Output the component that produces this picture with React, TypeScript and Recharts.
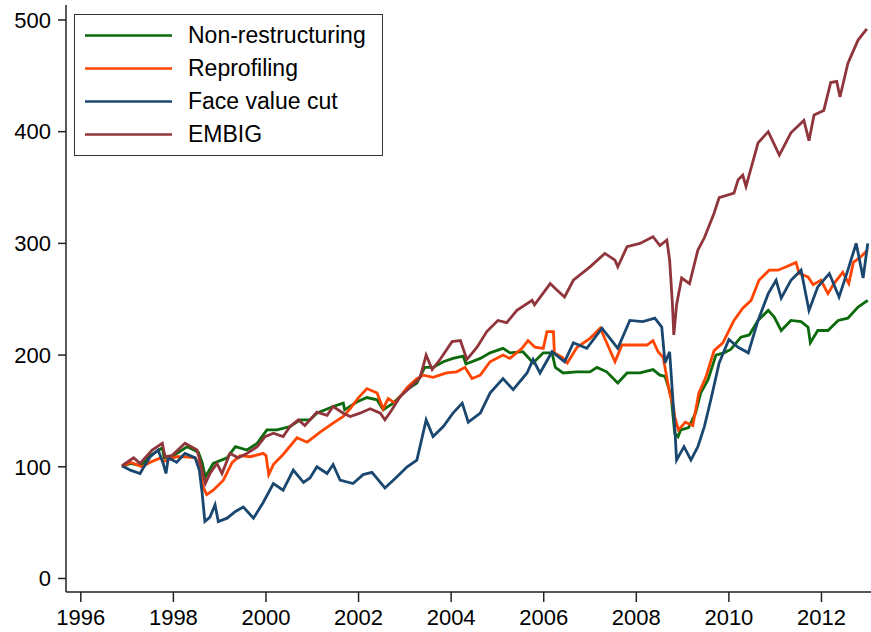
import React from 'react';
import { LineChart, Line, XAxis, YAxis, Legend } from 'recharts';

// [year, index value]
const nonRestructuring: [number, number][] = [
  [1996.89, 100], [1997.07, 103], [1997.3, 101], [1997.5, 110], [1997.76, 117], [1997.8, 108],
  [1998.0, 110], [1998.3, 118], [1998.54, 113], [1998.62, 104], [1998.69, 91], [1998.86, 103],
  [1999.16, 108], [1999.34, 118], [1999.59, 115], [1999.81, 121], [2000.02, 133], [2000.24, 133],
  [2000.52, 136], [2000.74, 142], [2000.95, 142], [2001.1, 148], [2001.45, 154], [2001.67, 157],
  [2001.7, 151], [2001.96, 158], [2002.18, 162], [2002.4, 160], [2002.53, 151], [2002.75, 157],
  [2003.05, 169], [2003.26, 175], [2003.43, 189], [2003.61, 189], [2003.83, 194], [2004.04, 197],
  [2004.26, 199], [2004.32, 192], [2004.63, 197], [2004.84, 202], [2005.12, 206], [2005.27, 202],
  [2005.55, 203], [2005.66, 198], [2005.77, 193], [2005.99, 202], [2006.18, 202], [2006.25, 189],
  [2006.42, 184], [2006.71, 185], [2007.0, 185], [2007.15, 189], [2007.36, 185], [2007.6, 175],
  [2007.8, 184], [2008.08, 184], [2008.36, 187], [2008.51, 182], [2008.62, 181], [2008.72, 168],
  [2008.76, 160], [2008.83, 130], [2008.9, 127], [2008.96, 133], [2009.13, 135], [2009.28, 148],
  [2009.39, 166], [2009.55, 178], [2009.72, 200], [2009.89, 202], [2010.04, 205], [2010.26, 216],
  [2010.44, 218], [2010.63, 231], [2010.85, 240], [2010.98, 234], [2011.13, 222], [2011.34, 231],
  [2011.56, 230], [2011.71, 225], [2011.76, 211], [2011.92, 222], [2012.14, 222], [2012.36, 231],
  [2012.57, 233], [2012.79, 243], [2013.0, 249],
];

const reprofiling: [number, number][] = [
  [1996.89, 100], [1997.07, 104], [1997.32, 100], [1997.5, 104], [1997.72, 108], [1997.8, 105],
  [1998.07, 109], [1998.25, 109], [1998.47, 108], [1998.56, 102], [1998.64, 82], [1998.72, 75],
  [1998.86, 79], [1999.08, 88], [1999.27, 104], [1999.44, 110], [1999.66, 109], [1999.94, 112],
  [2000.0, 110], [2000.06, 93], [2000.16, 102], [2000.37, 111], [2000.67, 126], [2000.89, 122],
  [2001.17, 131], [2001.45, 139], [2001.67, 145], [2001.82, 152], [2002.0, 162], [2002.18, 170],
  [2002.4, 166], [2002.53, 152], [2002.64, 161], [2002.79, 157], [2003.05, 171], [2003.26, 179],
  [2003.4, 182], [2003.61, 180], [2003.9, 184], [2004.12, 185], [2004.3, 189], [2004.45, 179],
  [2004.63, 182], [2004.84, 194], [2005.12, 200], [2005.27, 197], [2005.53, 206], [2005.66, 213],
  [2005.81, 207], [2005.99, 206], [2006.07, 221], [2006.21, 221], [2006.23, 202], [2006.4, 198],
  [2006.51, 193], [2006.72, 207], [2007.0, 215], [2007.22, 224], [2007.36, 211], [2007.54, 194],
  [2007.69, 209], [2007.94, 209], [2008.23, 209], [2008.36, 213], [2008.47, 203], [2008.58, 198],
  [2008.72, 166], [2008.8, 154], [2008.83, 145], [2008.91, 133], [2009.06, 140], [2009.22, 137],
  [2009.35, 166], [2009.5, 180], [2009.68, 204], [2009.87, 211], [2010.11, 231], [2010.3, 242],
  [2010.48, 249], [2010.65, 267], [2010.87, 276], [2011.06, 276], [2011.24, 279], [2011.45, 283],
  [2011.52, 273], [2011.71, 270], [2011.82, 263], [2011.99, 267], [2012.14, 255], [2012.27, 264],
  [2012.46, 274], [2012.59, 264], [2012.69, 283], [2012.85, 288], [2013.0, 294],
];

const faceValueCut: [number, number][] = [
  [1996.89, 101], [1997.07, 97], [1997.28, 94], [1997.35, 99], [1997.5, 109], [1997.67, 115],
  [1997.78, 103], [1997.84, 94], [1997.89, 108], [1998.07, 104], [1998.25, 112], [1998.47, 108],
  [1998.56, 97], [1998.62, 77], [1998.68, 51], [1998.79, 55], [1998.9, 66], [1998.97, 51],
  [1999.16, 54], [1999.34, 60], [1999.51, 64], [1999.73, 54], [1999.94, 68], [2000.16, 85],
  [2000.37, 79], [2000.59, 97], [2000.81, 86], [2000.95, 90], [2001.1, 100], [2001.32, 94],
  [2001.45, 102], [2001.6, 88], [2001.88, 85], [2002.1, 93], [2002.29, 95], [2002.57, 81],
  [2002.83, 91], [2003.05, 100], [2003.26, 106], [2003.46, 142], [2003.61, 127], [2003.83, 136],
  [2004.04, 148], [2004.24, 157], [2004.37, 140], [2004.63, 148], [2004.84, 166], [2005.12, 179],
  [2005.34, 169], [2005.64, 184], [2005.77, 196], [2005.92, 184], [2006.18, 203], [2006.45, 194],
  [2006.64, 211], [2006.93, 206], [2007.26, 224], [2007.6, 206], [2007.86, 231], [2008.14, 230],
  [2008.4, 233], [2008.55, 225], [2008.62, 193], [2008.72, 203], [2008.83, 136], [2008.87, 106],
  [2009.03, 118], [2009.18, 106], [2009.33, 118], [2009.47, 136], [2009.61, 160], [2009.79, 193],
  [2010.0, 214], [2010.2, 207], [2010.42, 202], [2010.63, 231], [2010.85, 255], [2011.02, 267],
  [2011.13, 251], [2011.34, 267], [2011.56, 276], [2011.73, 240], [2011.92, 261], [2012.17, 273],
  [2012.38, 252], [2012.57, 276], [2012.75, 300], [2012.9, 269], [2013.0, 300],
];

const embig: [number, number][] = [
  [1996.89, 101], [1997.14, 108], [1997.28, 103], [1997.54, 115], [1997.76, 121], [1997.82, 109],
  [1997.97, 110], [1998.25, 121], [1998.51, 115], [1998.55, 109], [1998.69, 85], [1998.79, 94],
  [1998.94, 103], [1999.05, 94], [1999.22, 112], [1999.4, 108], [1999.59, 112], [1999.81, 118],
  [1999.98, 127], [2000.16, 130], [2000.37, 127], [2000.52, 136], [2000.7, 142], [2000.84, 137],
  [2001.1, 149], [2001.32, 146], [2001.45, 154], [2001.67, 148], [2001.82, 145], [2002.03, 148],
  [2002.25, 152], [2002.47, 148], [2002.57, 142], [2002.72, 151], [2002.9, 163], [2003.11, 171],
  [2003.33, 180], [2003.46, 200], [2003.59, 187], [2003.76, 196], [2004.02, 212], [2004.2, 213],
  [2004.34, 196], [2004.56, 207], [2004.77, 221], [2005.01, 231], [2005.2, 229], [2005.42, 240],
  [2005.75, 249], [2005.8, 245], [2006.14, 264], [2006.29, 258], [2006.45, 252], [2006.64, 267],
  [2007.0, 279], [2007.32, 291], [2007.54, 285], [2007.6, 279], [2007.8, 297], [2008.08, 300],
  [2008.36, 306], [2008.51, 298], [2008.66, 303], [2008.72, 285], [2008.78, 246], [2008.81, 218],
  [2008.87, 245], [2008.98, 269], [2009.15, 264], [2009.33, 294], [2009.47, 305], [2009.68, 327],
  [2009.79, 341], [2010.11, 345], [2010.2, 357], [2010.3, 361], [2010.37, 351], [2010.63, 390],
  [2010.85, 400], [2011.09, 379], [2011.34, 399], [2011.62, 410], [2011.73, 392], [2011.84, 415],
  [2012.05, 419], [2012.2, 444], [2012.33, 445], [2012.4, 431], [2012.57, 461], [2012.79, 482],
  [2012.98, 492],
];

const xTicks = [1996, 1998, 2000, 2002, 2004, 2006, 2008, 2010, 2012];
const yTicks = [0, 100, 200, 300, 400, 500];

const series = [
  { key: 'nr', name: 'Non-restructuring', color: '#0b6a0b', points: nonRestructuring },
  { key: 'rp', name: 'Reprofiling', color: '#ff4500', points: reprofiling },
  { key: 'fv', name: 'Face value cut', color: '#1a476f', points: faceValueCut },
  { key: 'em', name: 'EMBIG', color: '#90353b', points: embig },
];

// merge all series into one table keyed by year
const rowMap = new Map<number, Record<string, number>>();
series.forEach((s) => {
  s.points.forEach(([t, v]) => {
    const row = rowMap.get(t) ?? { t };
    row[s.key] = v;
    rowMap.set(t, row);
  });
});
const data = Array.from(rowMap.values()).sort((a, b) => a.t - b.t);

const font = '"Liberation Sans", Arial, sans-serif';
const xDomain: [number, number] = [1995.68, 2013.07];

const LegendBox = () => (
  <div
    style={{
      width: 307,
      height: 136,
      border: '1px solid #333',
      background: '#fff',
      boxSizing: 'content-box',
      paddingTop: 4,
      fontFamily: font,
      fontSize: 23,
      color: '#000',
    }}
  >
    {series.map((s) => (
      <div key={s.key} style={{ display: 'flex', alignItems: 'center', height: 33 }}>
        <svg width={113} height={33} style={{ flex: 'none' }}>
          <line x1={10} x2={97} y1={16.5} y2={16.5} stroke={s.color} strokeWidth={2.6} />
        </svg>
        <span>{s.name}</span>
      </div>
    ))}
  </div>
);

const App = () => {
  return (
    <div style={{ width: 871, height: 632, background: '#fff' }}>
      <style>{'body{margin:0;background:#fff}'}</style>
      <LineChart width={871} height={632} data={data} margin={{ top: 5, right: 0, left: 0, bottom: 0 }}>
        <XAxis
          type="number"
          dataKey="t"
          domain={xDomain}
          ticks={xTicks}
          interval={0}
          allowDataOverflow
          height={40}
          tickSize={10}
          tickMargin={7}
          stroke="#222"
          strokeWidth={1.5}
          tick={{ fill: '#000', fontSize: 22, fontFamily: font }}
        />
        <XAxis
          xAxisId="top"
          orientation="top"
          type="number"
          domain={xDomain}
          height={0}
          tick={false}
          tickLine={false}
          stroke="#444"
          strokeWidth={1.5}
        />
        <YAxis
          domain={[-12.1, 513.4]}
          ticks={yTicks}
          interval={0}
          allowDataOverflow
          width={66}
          tickSize={8}
          tickMargin={7}
          stroke="#222"
          strokeWidth={1.5}
          tick={{ fill: '#000', fontSize: 22, fontFamily: font }}
        />
        <Legend
          layout="vertical"
          align="center"
          verticalAlign="middle"
          wrapperStyle={{ left: 74, top: 14, width: 309, height: 142 }}
          content={() => <LegendBox />}
        />
        {series.map((s) => (
          <Line
            key={s.key}
            type="linear"
            dataKey={s.key}
            name={s.name}
            stroke={s.color}
            strokeWidth={2.8}
            dot={false}
            connectNulls
            isAnimationActive={false}
          />
        ))}
      </LineChart>
    </div>
  );
};

export default App;
